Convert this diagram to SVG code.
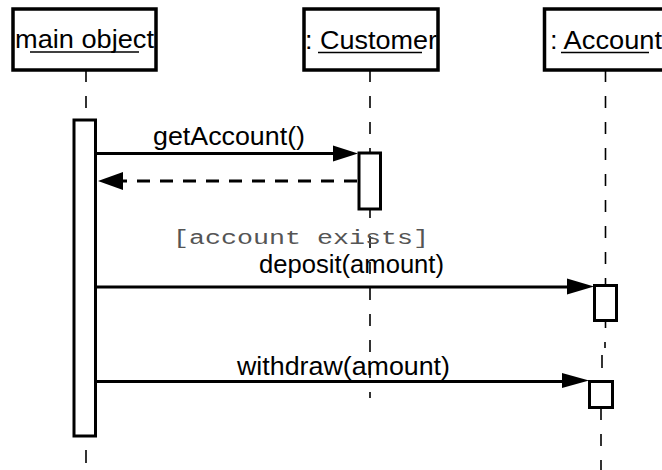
<svg xmlns="http://www.w3.org/2000/svg" width="662" height="470" viewBox="0 0 662 470">
  <defs>
    <style>
      .box { fill: #fff; stroke: #000; stroke-width: 3.5; }
      .act { fill: #fff; stroke: #000; stroke-width: 3; }
      .life { stroke: #000; stroke-width: 1.6; fill: none; }
      .msg { stroke: #000; stroke-width: 3; fill: none; }
      .ret { stroke: #000; stroke-width: 3; fill: none; stroke-dasharray: 13 10; }
      .head { fill: #000; stroke: none; }
      .lbl { font-family: "Liberation Sans", Arial, sans-serif; font-size: 25px; fill: #000; }
      .title { font-family: "Liberation Sans", Arial, sans-serif; font-size: 26px; fill: #000; }
      .guard { font-family: "Liberation Mono", "Courier New", monospace; font-size: 20px; fill: #555; }
      .ul { stroke: #000; stroke-width: 1.6; }
    </style>
  </defs>

  <rect width="662" height="470" fill="#fff"/>

  <!-- lifelines -->
  <g id="lifelines">
    <line class="life" x1="86" y1="70" x2="86" y2="119" stroke-dasharray="12 14"/>
    <line class="life" x1="86" y1="450" x2="86" y2="463"/>
    <line class="life" x1="370" y1="70" x2="370" y2="152" stroke-dasharray="12 14"/>
    <line class="life" x1="370" y1="210" x2="370" y2="218"/>
    <line class="life" x1="370" y1="236" x2="370" y2="398" stroke-dasharray="12 14"/>
    <line class="life" x1="605.5" y1="70" x2="605.5" y2="285" stroke-dasharray="12 14"/>
    <line class="life" x1="605.5" y1="322" x2="605.5" y2="328"/>
    <line class="life" x1="605" y1="342" x2="605" y2="348"/>
    <line class="life" x1="602" y1="355" x2="602" y2="368"/>
    <line class="life" x1="601" y1="408" x2="601" y2="470" stroke-dasharray="12 14"/>
  </g>

  <!-- participants -->
  <g id="main-object">
    <rect class="box" x="13" y="9" width="143" height="61"/>
    <text class="title" x="15" y="48" textLength="139" lengthAdjust="spacingAndGlyphs">main object</text>
    <line class="ul" x1="30" y1="52" x2="139" y2="52"/>
    <rect class="act" x="74" y="120" width="21.5" height="316"/>
  </g>

  <g id="customer">
    <rect class="box" x="304" y="9" width="134" height="61"/>
    <text class="title" x="305" y="49" textLength="132" lengthAdjust="spacingAndGlyphs">: Customer</text>
    <line class="ul" x1="318" y1="52.5" x2="422" y2="52.5"/>
    <rect class="act" x="359" y="153" width="21.5" height="56"/>
  </g>

  <g id="account">
    <rect class="box" x="544.5" y="9" width="130" height="61"/>
    <text class="title" x="550" y="49" textLength="112" lengthAdjust="spacingAndGlyphs">: Account</text>
    <line class="ul" x1="561" y1="52.5" x2="649" y2="52.5"/>
    <rect class="act" x="594.5" y="285.5" width="22" height="35"/>
    <rect class="act" x="589.5" y="381.5" width="23" height="26"/>
  </g>

  <!-- messages -->
  <g id="connectors">
    <line class="msg" x1="97" y1="153.5" x2="335" y2="153.5"/>
    <polygon class="head" points="358,153.5 333,145.5 333,161.5"/>
    <text class="lbl" x="153" y="145" textLength="152" lengthAdjust="spacingAndGlyphs">getAccount()</text>

    <line class="ret" x1="357" y1="181" x2="122" y2="181"/>
    <polygon class="head" points="98,181 123,172 123,190"/>

    <text class="guard" x="173" y="244" textLength="256" lengthAdjust="spacingAndGlyphs">[account exists]</text>

    <line class="msg" x1="97" y1="287" x2="570" y2="287"/>
    <polygon class="head" points="594,286.5 567,278.5 567,294.5"/>
    <text class="lbl" x="259" y="273" textLength="185" lengthAdjust="spacingAndGlyphs">deposit(amount)</text>

    <line class="msg" x1="97" y1="381.5" x2="565" y2="381.5"/>
    <polygon class="head" points="589,380.5 562,373 562,388"/>
    <text class="lbl" x="237" y="375" textLength="213" lengthAdjust="spacingAndGlyphs">withdraw(amount)</text>
  </g>
</svg>
